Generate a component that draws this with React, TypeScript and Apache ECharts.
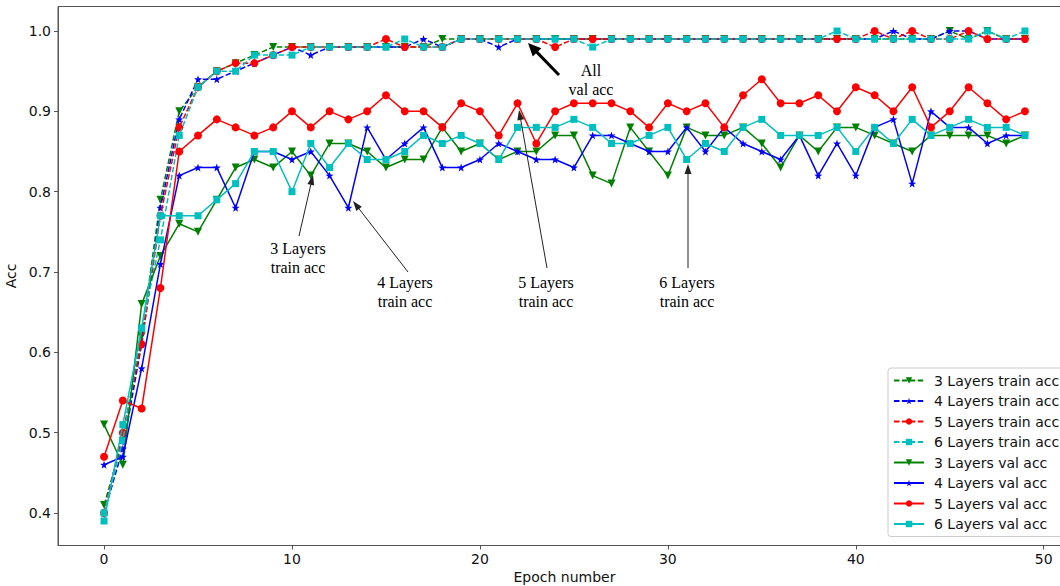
import React, { useEffect, useRef } from "react";
import * as echarts from "echarts";

const EPOCHS = [...Array(50).keys()];
const X_TICKS = [0, 10, 20, 30, 40, 50];
const Y_TICKS = [0.4, 0.5, 0.6, 0.7, 0.8, 0.9, 1.0];

const TRAIN_3 = [
  0.41, 0.49, 0.62, 0.79, 0.90, 0.93, 0.95, 0.96, 0.97, 0.98,
  0.98, 0.98, 0.98, 0.98, 0.98, 0.98, 0.98, 0.98, 0.99, 0.99,
  0.99, 0.99, 0.99, 0.99, 0.99, 0.99, 0.99, 0.99, 0.99, 0.99,
  0.99, 0.99, 0.99, 0.99, 0.99, 0.99, 0.99, 0.99, 0.99, 0.99,
  0.99, 0.99, 0.99, 0.99, 0.99, 1.00, 0.99, 1.00, 0.99, 0.99,
];
const TRAIN_4 = [
  0.40, 0.48, 0.61, 0.78, 0.89, 0.94, 0.94, 0.95, 0.96, 0.97,
  0.98, 0.97, 0.98, 0.98, 0.98, 0.98, 0.98, 0.99, 0.98, 0.99,
  0.99, 0.98, 0.99, 0.99, 0.99, 0.99, 0.99, 0.99, 0.99, 0.99,
  0.99, 0.99, 0.99, 0.99, 0.99, 0.99, 0.99, 0.99, 0.99, 0.99,
  0.99, 0.99, 1.00, 0.99, 0.99, 1.00, 1.00, 0.99, 0.99, 0.99,
];
const TRAIN_5 = [
  0.40, 0.50, 0.61, 0.77, 0.88, 0.93, 0.95, 0.96, 0.96, 0.97,
  0.98, 0.98, 0.98, 0.98, 0.98, 0.99, 0.98, 0.98, 0.98, 0.99,
  0.99, 0.99, 0.99, 0.99, 0.98, 0.99, 0.99, 0.99, 0.99, 0.99,
  0.99, 0.99, 0.99, 0.99, 0.99, 0.99, 0.99, 0.99, 0.99, 0.99,
  0.99, 1.00, 0.99, 1.00, 0.99, 0.99, 1.00, 0.99, 0.99, 0.99,
];
const TRAIN_6 = [
  0.40, 0.49, 0.63, 0.74, 0.87, 0.93, 0.95, 0.95, 0.97, 0.97,
  0.97, 0.98, 0.98, 0.98, 0.98, 0.98, 0.99, 0.98, 0.98, 0.99,
  0.99, 0.99, 0.99, 0.99, 0.99, 0.99, 0.98, 0.99, 0.99, 0.99,
  0.99, 0.99, 0.99, 0.99, 0.99, 0.99, 0.99, 0.99, 0.99, 1.00,
  0.99, 0.99, 0.99, 0.99, 0.99, 0.99, 0.99, 1.00, 0.99, 1.00,
];
const VAL_3 = [
  0.51, 0.46, 0.66, 0.72, 0.76, 0.75, 0.79, 0.83, 0.84, 0.83,
  0.85, 0.82, 0.86, 0.86, 0.85, 0.83, 0.84, 0.84, 0.88, 0.85,
  0.86, 0.84, 0.85, 0.85, 0.87, 0.87, 0.82, 0.81, 0.88, 0.85,
  0.82, 0.88, 0.87, 0.87, 0.88, 0.86, 0.83, 0.87, 0.85, 0.88,
  0.88, 0.87, 0.86, 0.85, 0.87, 0.87, 0.87, 0.87, 0.86, 0.87,
];
const VAL_4 = [
  0.46, 0.47, 0.58, 0.71, 0.82, 0.83, 0.83, 0.78, 0.85, 0.85,
  0.84, 0.85, 0.82, 0.78, 0.88, 0.84, 0.86, 0.88, 0.83, 0.83,
  0.84, 0.86, 0.85, 0.84, 0.84, 0.83, 0.87, 0.87, 0.86, 0.85,
  0.85, 0.88, 0.85, 0.88, 0.86, 0.85, 0.84, 0.87, 0.82, 0.86,
  0.82, 0.88, 0.89, 0.81, 0.90, 0.88, 0.88, 0.86, 0.87, 0.87,
];
const VAL_5 = [
  0.47, 0.54, 0.53, 0.68, 0.85, 0.87, 0.89, 0.88, 0.87, 0.88,
  0.90, 0.88, 0.90, 0.89, 0.90, 0.92, 0.90, 0.90, 0.88, 0.91,
  0.90, 0.87, 0.91, 0.86, 0.90, 0.91, 0.91, 0.91, 0.90, 0.88,
  0.91, 0.90, 0.91, 0.88, 0.92, 0.94, 0.91, 0.91, 0.92, 0.90,
  0.93, 0.92, 0.90, 0.93, 0.88, 0.90, 0.93, 0.91, 0.89, 0.90,
];
const VAL_6 = [
  0.39, 0.51, 0.63, 0.77, 0.77, 0.77, 0.79, 0.81, 0.85, 0.85,
  0.80, 0.86, 0.83, 0.86, 0.84, 0.84, 0.85, 0.87, 0.86, 0.87,
  0.86, 0.84, 0.88, 0.88, 0.88, 0.89, 0.88, 0.86, 0.86, 0.87,
  0.88, 0.84, 0.86, 0.85, 0.88, 0.89, 0.87, 0.87, 0.87, 0.88,
  0.85, 0.88, 0.86, 0.89, 0.87, 0.88, 0.89, 0.88, 0.88, 0.87,
];

const GREEN = "#008000";
const BLUE = "#0000ff";
const RED = "#ff0000";
const TEAL = "#00bfbf";

const STAR =
  "path://M0,-10 L2.35,-3.24 L9.51,-3.09 L3.8,1.24 L5.88,8.09 L0,4 L-5.88,8.09 L-3.8,1.24 L-9.51,-3.09 L-2.35,-3.24 Z";

const MARKERS: Record<string, { symbol: string; size: number; rotate: number }> = {
  "3": { symbol: "triangle", size: 8, rotate: 180 },
  "4": { symbol: STAR, size: 8, rotate: 0 },
  "5": { symbol: "circle", size: 8, rotate: 0 },
  "6": { symbol: "rect", size: 7, rotate: 0 },
};

const SERIES_DEFS = [
  { name: "3 Layers train acc", layer: "3", color: GREEN, dashed: true, values: TRAIN_3 },
  { name: "4 Layers train acc", layer: "4", color: BLUE, dashed: true, values: TRAIN_4 },
  { name: "5 Layers train acc", layer: "5", color: RED, dashed: true, values: TRAIN_5 },
  { name: "6 Layers train acc", layer: "6", color: TEAL, dashed: true, values: TRAIN_6 },
  { name: "3 Layers val acc", layer: "3", color: GREEN, dashed: false, values: VAL_3 },
  { name: "4 Layers val acc", layer: "4", color: BLUE, dashed: false, values: VAL_4 },
  { name: "5 Layers val acc", layer: "5", color: RED, dashed: false, values: VAL_5 },
  { name: "6 Layers val acc", layer: "6", color: TEAL, dashed: false, values: VAL_6 },
];

function arrow(x1: number, y1: number, x2: number, y2: number, w: number, hl: number, hw: number, color: string) {
  const dx = x2 - x1;
  const dy = y2 - y1;
  const L = Math.hypot(dx, dy);
  const ux = dx / L;
  const uy = dy / L;
  const bx = x2 - ux * hl;
  const by = y2 - uy * hl;
  const px = -uy;
  const py = ux;
  return [
    { type: "line", silent: true, z: 100, shape: { x1, y1, x2: bx + ux, y2: by + uy }, style: { stroke: color, lineWidth: w } },
    {
      type: "polygon",
      silent: true,
      z: 100,
      shape: {
        points: [
          [x2, y2],
          [bx + (px * hw) / 2, by + (py * hw) / 2],
          [bx - (px * hw) / 2, by - (py * hw) / 2],
        ],
      },
      style: { fill: color },
    },
  ];
}

function label(x: number, y: number, text: string) {
  return {
    type: "text",
    silent: true,
    z: 100,
    x,
    y,
    style: {
      text,
      fill: "#000",
      fontSize: 16,
      fontFamily: "Liberation Serif",
      align: "center",
      verticalAlign: "top",
      lineHeight: 19,
    },
  };
}

export default function App() {
  const ref = useRef<HTMLDivElement>(null);

  useEffect(() => {
    if (!ref.current) return;
    const chart = echarts.init(ref.current, undefined, { renderer: "svg" });

    const series = SERIES_DEFS.map((d, i) => {
      const m = MARKERS[d.layer];
      return {
        type: "line",
        name: d.name,
        data: EPOCHS.map((e, k) => [e, d.values[k]]),
        symbol: m.symbol,
        symbolSize: m.size,
        symbolRotate: m.rotate,
        showSymbol: true,
        showAllSymbol: true,
        z: 2 + i,
        lineStyle: { color: d.color, width: 1.5, type: d.dashed ? [5.5, 2.4] : "solid" },
        itemStyle: { color: d.color },
        emphasis: { disabled: true },
      };
    });

    const graphics: any[] = [
      label(298, 238.5, "3 Layers\ntrain acc"),
      label(405, 272.5, "4 Layers\ntrain acc"),
      label(546, 272.5, "5 Layers\ntrain acc"),
      label(687, 272.5, "6 Layers\ntrain acc"),
      label(591, 60.5, "All\nval acc"),
      ...arrow(299, 236, 313, 175, 1, 10, 7, "#222"),
      ...arrow(408, 272, 353, 201, 1, 10, 7, "#222"),
      ...arrow(547, 268, 519, 110, 1, 10, 7, "#222"),
      ...arrow(688, 268, 688, 164, 1, 10, 7, "#222"),
      ...arrow(559, 75, 528, 43, 3, 13, 12, "#000"),
    ];

    chart.setOption({
      animation: false,
      backgroundColor: "#fff",
      textStyle: { fontFamily: "DejaVu Sans" },
      grid: {
        left: 58,
        right: -11,
        top: 6.5,
        bottom: 40.5,
        containLabel: false,
        outerBoundsMode: "none",
        show: true,
        borderColor: "#555",
        borderWidth: 1,
        backgroundColor: "transparent",
      },
      xAxis: {
        type: "value",
        min: -2.45,
        max: 51.45,
        name: "Epoch number",
        nameLocation: "middle",
        nameGap: 22,
        nameTextStyle: { fontSize: 14, color: "#111", fontFamily: "DejaVu Sans" },
        axisLine: { show: true, onZero: false, lineStyle: { color: "#555", width: 1 } },
        axisTick: { show: true, customValues: X_TICKS, length: 4, lineStyle: { color: "#555" } },
        axisLabel: {
          customValues: X_TICKS,
          fontSize: 14,
          color: "#111",
          margin: 6,
          fontFamily: "DejaVu Sans",
          formatter: (v: number) => String(v),
        },
        splitLine: { show: false },
      },
      yAxis: {
        type: "value",
        min: 0.3595,
        max: 1.0305,
        name: "Acc",
        nameLocation: "middle",
        nameRotate: 90,
        nameGap: 40,
        nameTextStyle: { fontSize: 14, color: "#111", fontFamily: "DejaVu Sans" },
        axisLine: { show: true, onZero: false, lineStyle: { color: "#555", width: 1 } },
        axisTick: { show: true, customValues: Y_TICKS, length: 4, lineStyle: { color: "#555" } },
        axisLabel: {
          customValues: Y_TICKS,
          fontSize: 14,
          color: "#111",
          margin: 7,
          fontFamily: "DejaVu Sans",
          formatter: (v: number) => v.toFixed(1),
        },
        splitLine: { show: false },
      },
      legend: {
        orient: "vertical",
        left: 888,
        top: 368,
        padding: [4.5, 40, 4.5, 5],
        itemWidth: 30,
        itemHeight: 8,
        itemGap: 4.5,
        backgroundColor: "rgba(255,255,255,0.85)",
        borderColor: "#ccc",
        borderWidth: 1,
        borderRadius: 3,
        selectedMode: false,
        textStyle: { fontSize: 14, color: "#111", fontFamily: "DejaVu Sans", lineHeight: 16, padding: [0, 0, 0, 5] },
        data: SERIES_DEFS.map((d) => d.name),
      },
      series,
      graphic: graphics,
    });

    return () => chart.dispose();
  }, []);

  return <div ref={ref} style={{ position: "absolute", left: 0, top: 0, width: 1060, height: 586 }} />;
}
